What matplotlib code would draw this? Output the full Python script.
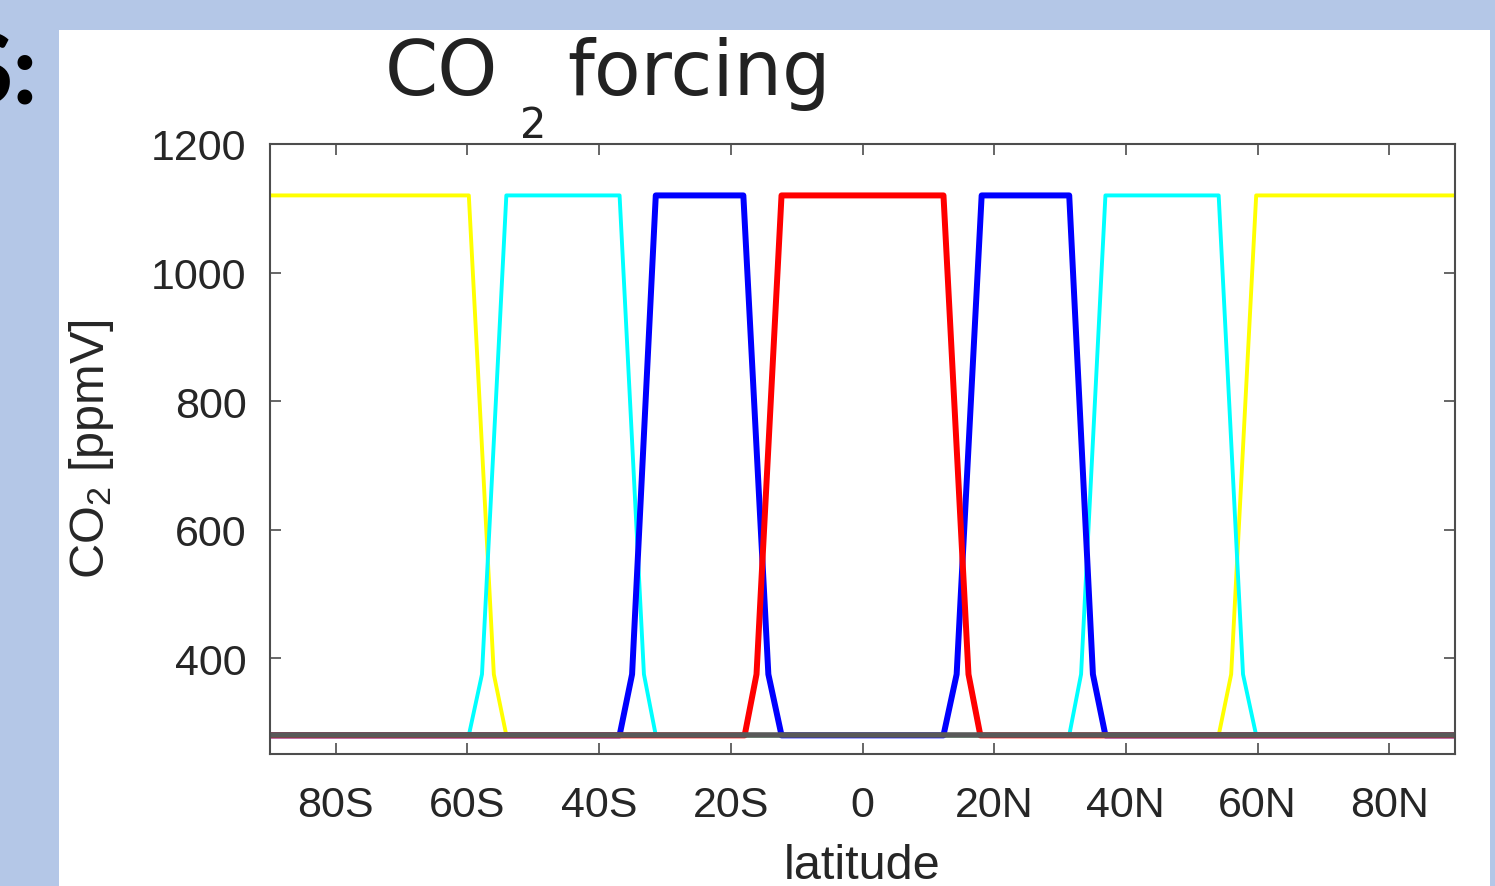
import matplotlib
matplotlib.use('Agg')
import matplotlib.pyplot as plt
from matplotlib.patches import Rectangle

plt.rcParams['font.family'] = ['Liberation Sans', 'DejaVu Sans']
plt.rcParams['mathtext.default'] = 'regular'

# CO2 forcing profiles (ppmV) vs latitude
lat_yellow = [-90, -59.8, -56.0, -54.1, 54.1, 56.0, 59.8, 90]
co2_yellow = [1120, 1120, 375, 280, 280, 375, 1120, 1120]

lat_cyan = [-90, -59.8, -57.8, -54.1, -36.9, -33.2, -31.4, 31.4, 33.2, 36.9, 54.1, 57.8, 59.8, 90]
co2_cyan = [280, 280, 375, 1120, 1120, 375, 280, 280, 375, 1120, 1120, 375, 280, 280]

lat_blue = [-90, -36.9, -35.0, -31.4, -18.1, -14.3, -12.3, 12.3, 14.3, 18.1, 31.4, 35.0, 36.9, 90]
co2_blue = [280, 280, 375, 1120, 1120, 375, 280, 280, 375, 1120, 1120, 375, 280, 280]

lat_red = [-90, -17.9, -16.1, -12.3, 12.3, 16.1, 17.9, 90]
co2_red = [280, 280, 375, 1120, 1120, 375, 280, 280]

lat_ctrl = [-90, 90]
co2_ctrl = [280, 280]

xticks = [-80, -60, -40, -20, 0, 20, 40, 60, 80]
xticklabels = ['80S', '60S', '40S', '20S', '0', '20N', '40N', '60N', '80N']
yticks = [400, 600, 800, 1000, 1200]

W, H = 1495, 887
fig = plt.figure(figsize=(W / 100, H / 100), dpi=100, facecolor='#b4c7e7')

# white slide panel
fig.patches.append(Rectangle((59 / W, 0), (1490 - 59) / W, (H - 31) / H,
                             transform=fig.transFigure, facecolor='white',
                             edgecolor='none', zorder=-5))

ax = fig.add_axes([270 / W, 1 - 755 / H, (1455 - 270) / W, (755 - 145) / H])

ax.plot(lat_yellow, co2_yellow, color='#ffff00', lw=2.8)
ax.plot(lat_cyan, co2_cyan, color='#00ffff', lw=2.8)
ax.plot(lat_blue, co2_blue, color='#0000ff', lw=4.3)
ax.plot(lat_red, co2_red, color='#ff0000', lw=4.3)
ax.plot(lat_ctrl, co2_ctrl, color='#595959', lw=4)

ax.set_xlim(-90, 90)
ax.set_ylim(251, 1200)
ax.set_xticks(xticks)
ax.set_xticklabels(xticklabels)
ax.set_yticks(yticks)

for s in ax.spines.values():
    s.set_color('#4d4d4d')
    s.set_linewidth(1.5)
ax.tick_params(direction='in', length=8, width=1.2, color='#4d4d4d',
               top=True, right=True, labelsize=31, labelcolor='#262626')
ax.tick_params(axis='x', pad=22)
ax.tick_params(axis='y', pad=17)

fig.text(91 / W, 1 - 449 / H, 'CO$_2$ [ppmV]', rotation=90, ha='center',
         va='center', fontsize=35, color='#262626')
fig.text(862 / W, 1 - 879 / H, 'latitude', ha='center', va='baseline',
         fontsize=35, color='#262626')

# title, set piece by piece to follow the wide lettering of the slide
tkw = dict(va='baseline', color='#222222', family=['DejaVu Sans'])
fig.text(385 / W, 1 - 95 / H, 'CO', ha='left', fontsize=55, **tkw)
fig.text(520 / W, 1 - 138 / H, '2', ha='left', fontsize=30, **tkw)
fig.text(567 / W, 1 - 95 / H, 'forcing', ha='left', fontsize=55, **tkw)

# cut-off slide heading at the left edge
fig.text(38 / W, 1 - 104 / H, 'S:', ha='right', va='baseline',
         fontsize=70, fontweight='bold', color='black', family=['Lato', 'DejaVu Sans'])

fig.savefig('out.png', dpi=100, facecolor=fig.get_facecolor())
